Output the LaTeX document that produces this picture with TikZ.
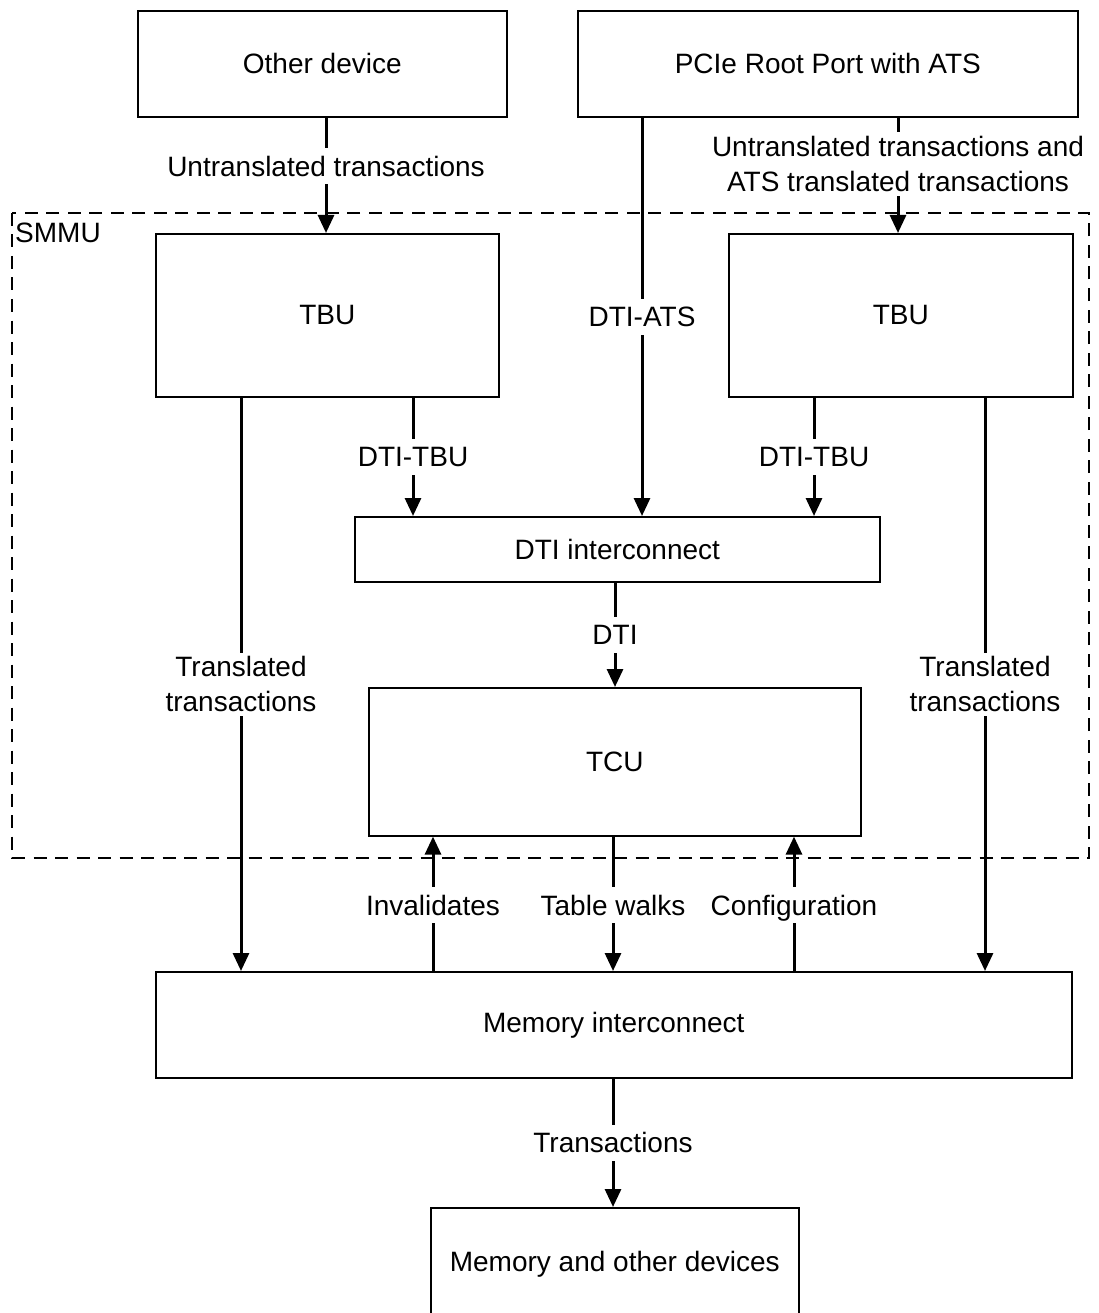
\documentclass[tikz,border=0pt]{standalone}
\usepackage{fontspec}
\setmainfont{Liberation Sans}
\usetikzlibrary{arrows.meta}
\begin{document}
\begin{tikzpicture}[x=1pt,y=-1pt,
  font=\fontsize{28}{35}\selectfont,
  box/.style={draw, line width=1.6pt, rectangle, inner sep=0pt, anchor=north west, align=center},
  link/.style={line width=3pt, -{Triangle[length=18pt,width=16pt]}},
  wire/.style={line width=3pt},
  lbl/.style={fill=white, inner xsep=4pt, inner ysep=6pt, text height=22pt, text depth=2pt},
  lbltwo/.style={fill=white, inner xsep=4pt, inner ysep=4pt, align=center},
  region/.style={draw, line width=1.5pt, dash pattern=on 13pt off 8.5pt}
]
\useasboundingbox (0,0) rectangle (1098,1313);
\clip (0,0) rectangle (1098,1313);

% SMMU boundary
\draw[region] (12,213) rectangle (1089,858);
\node[anchor=base west, inner sep=0pt] (smmu) at (15,243) {SMMU};

% blocks
\node[box, minimum width=369pt, minimum height=106pt] (other) at (137,10) {Other device};
\node[box, minimum width=500pt, minimum height=106pt] (pcie) at (577,10) {PCIe Root Port with ATS};
\node[box, minimum width=343pt, minimum height=163pt] (tbuL) at (155,233) {TBU};
\node[box, minimum width=344pt, minimum height=163pt] (tbuR) at (728,233) {TBU};
\node[box, minimum width=525pt, minimum height=65pt] (dti) at (354,516) {DTI interconnect};
\node[box, minimum width=492pt, minimum height=148pt] (tcu) at (368,687) {TCU};
\node[box, minimum width=916pt, minimum height=106pt] (memic) at (155,971) {Memory interconnect};
\node[box, minimum width=368pt, minimum height=112pt] (memdev) at (430,1207) {Memory and other devices};

% connector columns
\coordinate (xUntr) at (326,0);
\coordinate (xAts) at (898,0);
\coordinate (xDtiAts) at (642,0);
\coordinate (xTbuL) at (413,0);
\coordinate (xTbuR) at (814,0);
\coordinate (xDti) at (615,0);
\coordinate (xTrL) at (241,0);
\coordinate (xTrR) at (985,0);
\coordinate (xInv) at (433,0);
\coordinate (xWalk) at (613,0);
\coordinate (xCfg) at (794,0);
\coordinate (xOut) at (613,0);

% connectors
\draw[link] (other.south -| xUntr) -- (tbuL.north -| xUntr)
  node[lbl, pos=0.42] (lUntr) {Untranslated transactions};
\draw[link] (pcie.south -| xAts) -- (tbuR.north -| xAts)
  node[lbltwo, pos=0.40] (lAts) {Untranslated transactions and\\ATS translated transactions};
\draw[link] (pcie.south -| xDtiAts) -- (dti.north -| xDtiAts)
  node[lbl, pos=0.5] (lDtiAts) {DTI-ATS};
\draw[link] (tbuL.south -| xTbuL) -- (dti.north -| xTbuL)
  node[lbl, pos=0.5] (lTbuL) {DTI-TBU};
\draw[link] (tbuR.south -| xTbuR) -- (dti.north -| xTbuR)
  node[lbl, pos=0.5] (lTbuR) {DTI-TBU};
\draw[link] (dti.south -| xDti) -- (tcu.north -| xDti)
  node[lbl, pos=0.5] (lDti) {DTI};
\draw[link] (tbuL.south -| xTrL) -- (memic.north -| xTrL)
  node[lbltwo, pos=0.5] (lTrL) {Translated\\transactions};
\draw[link] (tbuR.south -| xTrR) -- (memic.north -| xTrR)
  node[lbltwo, pos=0.5] (lTrR) {Translated\\transactions};
\draw[link] (memic.north -| xInv) -- (tcu.south -| xInv)
  node[lbl, pos=0.49] (lInv) {Invalidates};
\draw[link] (tcu.south -| xWalk) -- (memic.north -| xWalk)
  node[lbl, pos=0.51] (lWalk) {Table walks};
\draw[link] (memic.north -| xCfg) -- (tcu.south -| xCfg)
  node[lbl, pos=0.49] (lCfg) {Configuration};
\draw[link] (memic.south -| xOut) -- (memdev.north -| xOut)
  node[lbl, pos=0.5] (lOut) {Transactions};
\end{tikzpicture}
\end{document}
